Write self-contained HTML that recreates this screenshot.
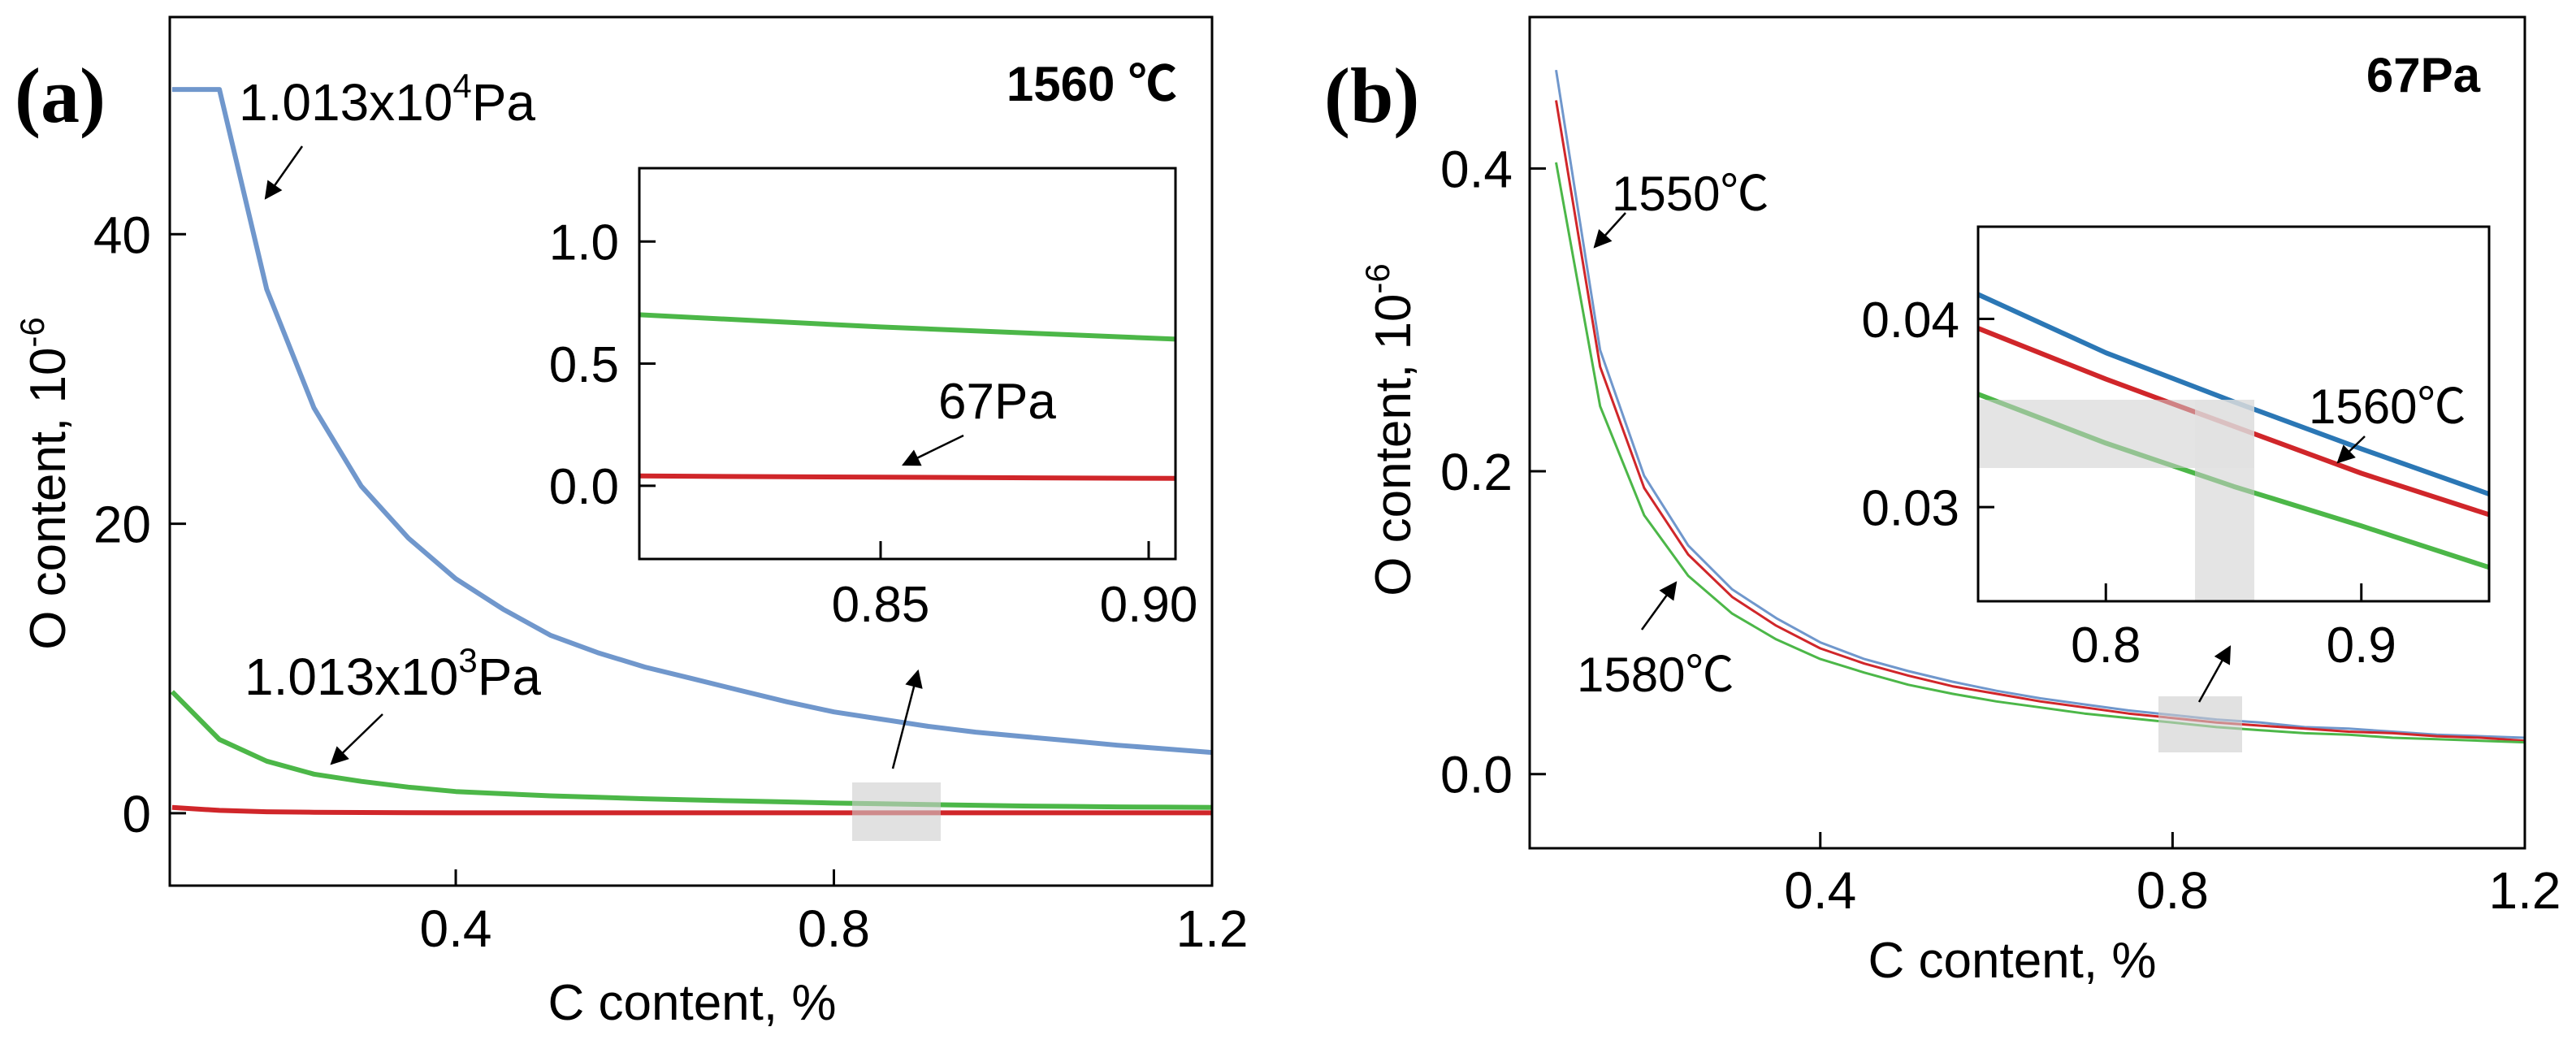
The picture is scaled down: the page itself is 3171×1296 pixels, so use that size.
<!DOCTYPE html>
<html><head><meta charset="utf-8"><style>
html,body{margin:0;padding:0;background:#fff;}
svg{display:block;}
text{font-family:"Liberation Sans","Noto Sans CJK SC",sans-serif;fill:#000;}
</style></head><body>
<svg id="fig" width="3171" height="1296" viewBox="0 0 3171 1296" xmlns="http://www.w3.org/2000/svg">
<defs>
<marker id="ahb" viewBox="0 0 10 10" refX="9" refY="5" markerWidth="32" markerHeight="22" orient="auto" markerUnits="userSpaceOnUse"><path d="M0,0 L10,5 L0,10 z" fill="#000"/></marker>
</defs>
<g id="layer"></g>
</svg>
<script>
// ---- Panel (a) data ----
const aX = [0.1,0.15,0.2,0.25,0.3,0.35,0.4,0.45,0.5,0.55,0.6,0.65,0.7,0.75,0.8,0.85,0.9,0.95,1.0,1.05,1.1,1.15,1.2];
const aBlue = [50,50,36.2,28,22.6,19,16.2,14.1,12.3,11.1,10.1,9.3,8.5,7.7,7.0,6.5,6.0,5.6,5.3,5.0,4.7,4.45,4.2];
const aGreen = [8.4,5.1,3.6,2.7,2.2,1.8,1.5,1.35,1.2,1.1,1.0,0.92,0.85,0.78,0.7,0.65,0.6,0.55,0.5,0.47,0.44,0.42,0.4];
const aRed = [0.4,0.2,0.1,0.07,0.05,0.04,0.03,0.03,0.03,0.03,0.03,0.03,0.03,0.03,0.03,0.03,0.03,0.03,0.03,0.03,0.03,0.03,0.03];
const aXTicks = [0.4,0.8,1.2];
const aYTicks = [0,20,40];
// inset (a)
const aiX = [0.805,0.85,0.905];
const aiGreen = [0.70,0.65,0.60];
const aiRed = [0.04,0.035,0.03];
const aiXTicks = [0.85,0.90];
const aiYTicks = [0.0,0.5,1.0];
// ---- Panel (b) data ----
const bX = [0.1,0.15,0.2,0.25,0.3,0.35,0.4,0.45,0.5,0.55,0.6,0.65,0.7,0.75,0.8,0.85,0.9,0.95,1.0,1.05,1.1,1.15,1.2];
const b1550 = [0.465,0.280,0.197,0.151,0.122,0.103,0.087,0.076,0.068,0.061,0.055,0.050,0.046,0.042,0.039,0.036,0.034,0.031,0.030,0.028,0.026,0.025,0.024];
const b1560 = [0.445,0.269,0.189,0.145,0.117,0.098,0.083,0.073,0.065,0.058,0.053,0.048,0.044,0.040,0.037,0.034,0.032,0.030,0.028,0.027,0.025,0.024,0.022];
const b1580 = [0.404,0.243,0.171,0.131,0.106,0.089,0.076,0.067,0.059,0.053,0.048,0.044,0.040,0.037,0.034,0.031,0.029,0.027,0.026,0.024,0.023,0.022,0.021];
const bXTicks = [0.4,0.8,1.2];
const bYTicks = [0.0,0.2,0.4];
// inset (b)
const biX = [0.75,0.8,0.85,0.9,0.95];
const bi1550 = [0.0413,0.0382,0.0356,0.0331,0.0307];
const bi1560 = [0.0395,0.0368,0.0343,0.0318,0.0296];
const bi1580 = [0.0360,0.0334,0.0311,0.0290,0.0268];
const biXTicks = [0.8,0.9];
const biYTicks = [0.03,0.04];

const NS = "http://www.w3.org/2000/svg";
const layer = document.getElementById('layer');
function el(tag, attrs, parent){
  const e = document.createElementNS(NS, tag);
  for (const k in attrs) e.setAttribute(k, attrs[k]);
  (parent||layer).appendChild(e);
  return e;
}
function scale(d0,d1,r0,r1){ return v => r0 + (v-d0)/(d1-d0)*(r1-r0); }

function axesBox(x0,y0,x1,y1,name){
  const r = el('rect',{x:x0,y:y0,width:x1-x0,height:y1-y0,fill:'none',stroke:'#000','stroke-width':3});
  
  
}
function xTicks(ticks,sx,y1,len,labY,fs,fmt,name){
  ticks.forEach(t=>{
    const x = sx(t);
    const l = el('line',{x1:x,y1:y1,x2:x,y2:y1-len,stroke:'#000','stroke-width':3});
    
    
    const tx = el('text',{x:x,y:labY,'font-size':fs,'text-anchor':'middle'});
    tx.textContent = fmt(t);
    
    
  });
}
function yTicks(ticks,sy,x0,len,labX,fs,fmt,name){
  ticks.forEach(t=>{
    const y = sy(t);
    const l = el('line',{x1:x0,y1:y,x2:x0+len,y2:y,stroke:'#000','stroke-width':3});
    
    
    const tx = el('text',{x:labX,y:y+fs*0.36,'font-size':fs,'text-anchor':'end'});
    tx.textContent = fmt(t);
    
    
  });
}
function series(xs,ys,sx,sy,color,w,name,clip){
  const d = xs.map((x,i)=>(i?'L':'M')+sx(x).toFixed(1)+','+sy(ys[i]).toFixed(1)).join(' ');
  const p = el('path',{d:d,fill:'none',stroke:color,'stroke-width':w,'stroke-linejoin':'round'});
  if (clip) p.setAttribute('clip-path', clip);
  
  
}
function rect(x,y,w,h,fill,name){
  const r = el('rect',{x:x,y:y,width:w,height:h,fill:fill});
  
  
}
function arrow(x1,y1,x2,y2,name){
  const l = el('line',{x1:x1,y1:y1,x2:x2,y2:y2,stroke:'#000','stroke-width':2.5,'marker-end':'url(#ahb)'});
  
  
}
function text(x,y,str,fs,opts,name){
  const t = el('text',Object.assign({x:x,y:y,'font-size':fs},opts||{}));
  t.textContent = str;
  
  
  return t;
}
function clipRect(id,x0,y0,x1,y1){
  const defs = document.querySelector('defs');
  const c = el('clipPath',{id:id},defs);
  el('rect',{x:x0,y:y0,width:x1-x0,height:y1-y0},c);
}

const BLUE_L = '#7097cc', GREEN = '#4cb748', RED = '#d0262a', BLUE_D = '#2b77b5';

// ===== Panel (a) =====
const aL=209,aT=21,aR=1492,aB=1090;
const ax = scale(0.0975,1.2,aL,aR), ay = scale(55,-5,aT,aB);
clipRect('ca',aL,aT,aR,aB);
series(aX,aBlue,ax,ay,BLUE_L,6,'series-1013e4pa','url(#ca)');
series(aX,aGreen,ax,ay,GREEN,6,'series-1013e3pa','url(#ca)');
series(aX,aRed,ax,ay,RED,6,'series-67pa','url(#ca)');
rect(1049,963,109,72,'rgba(205,205,205,0.6)','zoom-region-a');
axesBox(aL,aT,aR,aB,'plot-frame-a');
xTicks(aXTicks,ax,aB,20,1165,64,v=>v.toFixed(1),'x-axis-a');
yTicks(aYTicks,ay,aL,20,186,64,v=>String(v),'y-axis-a');
text(852,1255,'C content, %',62,{'text-anchor':'middle'},'x-axis-title-a');
(function(){
  const t = el('text',{x:0,y:0,'font-size':62,'text-anchor':'middle',transform:'translate(80,595) rotate(-90)'});
  
  
  t.innerHTML = 'O content, 10<tspan dy="-26" font-size="42">-6</tspan>';
})();
(function(){
  const t = text(18,150,'(a)',96,{'font-weight':'bold'},'panel-label-a');
  t.style.fontFamily='"Liberation Serif",serif';
})();
text(1449,124,'1560 ℃',60,{'text-anchor':'end','font-weight':'bold'},'condition-label-a');
(function(){
  const t = el('text',{x:294,y:148,'font-size':64});
  
  
  t.innerHTML = '1.013x10<tspan dy="-28" font-size="42">4</tspan><tspan dy="28">Pa</tspan>';
  const t2 = el('text',{x:301,y:855,'font-size':64});
  
  
  t2.innerHTML = '1.013x10<tspan dy="-28" font-size="42">3</tspan><tspan dy="28">Pa</tspan>';
})();
arrow(372,180,327,244,'arrow-1013e4pa');
arrow(471,879,408,940,'arrow-1013e3pa');
arrow(1099,946,1130,826,'arrow-zoom-a');
// inset (a)
const iaL=787,iaT=207,iaR=1447,iaB=688;
const iax = scale(0.805,0.905,iaL,iaR), iay = scale(1.30,-0.30,iaT,iaB);
rect(iaL,iaT,iaR-iaL,iaB-iaT,'#fff','inset-bg-a');
clipRect('cia',iaL,iaT,iaR,iaB);
series(aiX,aiGreen,iax,iay,GREEN,6,'inset-series-1013e3pa','url(#cia)');
series(aiX,aiRed,iax,iay,RED,6,'inset-series-67pa','url(#cia)');
axesBox(iaL,iaT,iaR,iaB,'inset-frame-a');
xTicks(aiXTicks,iax,iaB,22,765,62,v=>v.toFixed(2),'inset-x-axis-a');
yTicks(aiYTicks,iay,iaL,20,762,62,v=>v.toFixed(1),'inset-y-axis-a');
text(1155,515,'67Pa',62,{},'label-67pa');
arrow(1186,536,1112,572,'arrow-67pa');

// ===== Panel (b) =====
const bL=1883,bT=21,bR=3108,bB=1044;
const bx = scale(0.07,1.2,bL,bR), by = scale(0.5,-0.049,bT,bB);
clipRect('cb',bL,bT,bR,bB);
series(bX,b1550,bx,by,BLUE_L,3,'series-1550c','url(#cb)');
series(bX,b1560,bx,by,RED,3,'series-1560c','url(#cb)');
series(bX,b1580,bx,by,GREEN,3,'series-1580c','url(#cb)');
rect(2657,857,103,69,'rgba(205,205,205,0.6)','zoom-region-b');
axesBox(bL,bT,bR,bB,'plot-frame-b');
xTicks(bXTicks,bx,bB,20,1118,64,v=>v.toFixed(1),'x-axis-b');
yTicks(bYTicks,by,bL,20,1862,64,v=>v.toFixed(1),'y-axis-b');
text(2477,1203,'C content, %',62,{'text-anchor':'middle'},'x-axis-title-b');
(function(){
  const t = el('text',{x:0,y:0,'font-size':62,'text-anchor':'middle',transform:'translate(1736,529) rotate(-90)'});
  
  
  t.innerHTML = 'O content, 10<tspan dy="-26" font-size="42">-6</tspan>';
})();
(function(){
  const t = text(1630,150,'(b)',96,{'font-weight':'bold'},'panel-label-b');
  t.style.fontFamily='"Liberation Serif",serif';
})();
text(3053,113,'67Pa',60,{'text-anchor':'end','font-weight':'bold'},'condition-label-b');
text(1984,259,'1550℃',60,{},'label-1550c');
arrow(2001,262,1963,304,'arrow-1550c');
text(1941,851,'1580℃',60,{},'label-1580c');
arrow(2021,775,2063,717,'arrow-1580c');
arrow(2707,864,2745,796,'arrow-zoom-b');
// inset (b)
const ibL=2435,ibT=279,ibR=3064,ibB=740;
const ibx = scale(0.75,0.95,ibL,ibR), iby = scale(0.0449,0.025,ibT,ibB);
rect(ibL,ibT,ibR-ibL,ibB-ibT,'#fff','inset-bg-b');
clipRect('cib',ibL,ibT,ibR,ibB);
series(biX,bi1550,ibx,iby,BLUE_D,6,'inset-series-1550c','url(#cib)');
series(biX,bi1560,ibx,iby,RED,6,'inset-series-1560c','url(#cib)');
series(biX,bi1580,ibx,iby,GREEN,6,'inset-series-1580c','url(#cib)');
rect(2435,492,340,84,'rgba(205,205,205,0.55)','inset-band-horizontal');
rect(2702,492,73,248,'rgba(205,205,205,0.55)','inset-band-vertical');
rect(2702,492,73,84,'rgba(255,255,255,0.25)','inset-band-overlap');
axesBox(ibL,ibT,ibR,ibB,'inset-frame-b');
xTicks(biXTicks,ibx,ibB,22,815,62,v=>v.toFixed(1),'inset-x-axis-b');
yTicks(biYTicks,iby,ibL,20,2412,62,v=>v.toFixed(2),'inset-y-axis-b');
text(2842,521,'1560℃',60,{},'label-1560c');
arrow(2911,537,2878,569,'arrow-1560c');
</script>
</body></html>
